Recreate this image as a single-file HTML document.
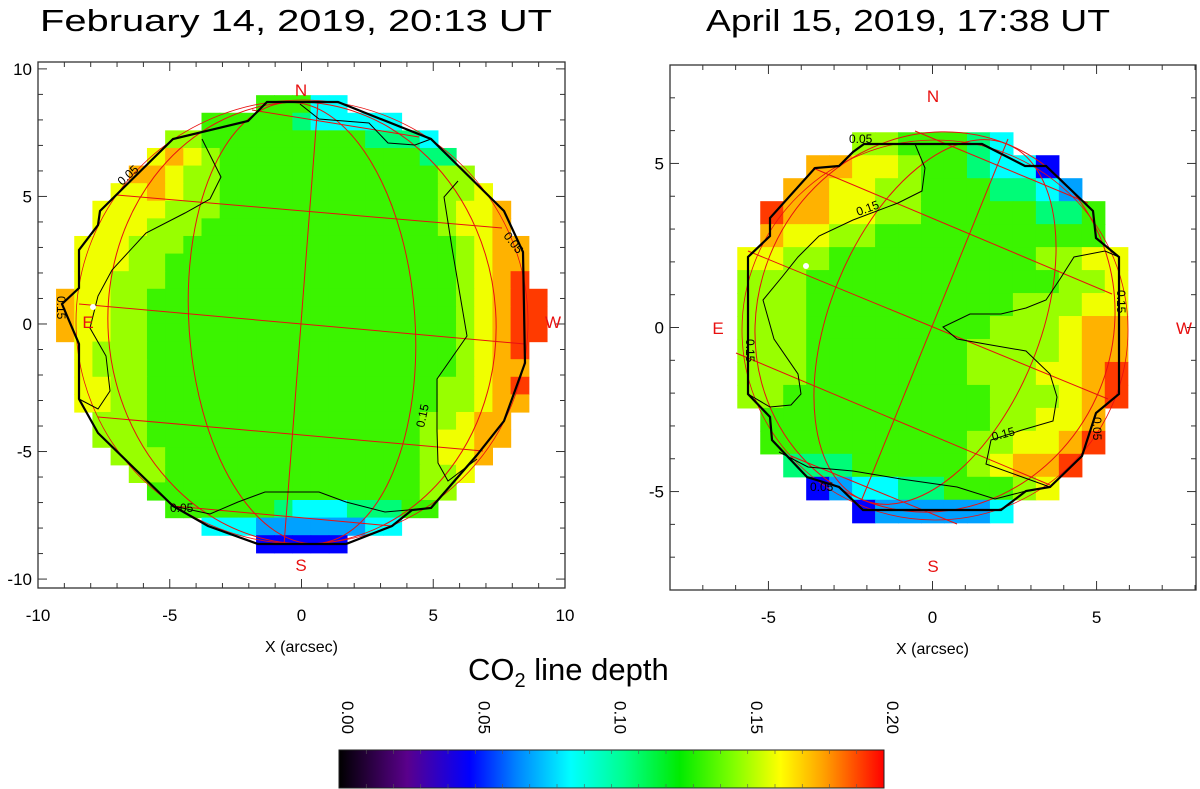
<!DOCTYPE html>
<html><head><meta charset="utf-8"><style>
html,body{margin:0;padding:0;background:#fff;}
svg{display:block;font-family:"Liberation Sans",sans-serif;}
</style></head><body>
<svg id="fig" width="1200" height="789" viewBox="0 0 1200 789" xmlns="http://www.w3.org/2000/svg">
<text x="40" y="31" font-size="31" textLength="512" lengthAdjust="spacingAndGlyphs">February 14, 2019, 20:13 UT</text>
<text x="706" y="31" font-size="31" textLength="404" lengthAdjust="spacingAndGlyphs">April 15, 2019, 17:38 UT</text>
<g id="left"></g>
<g id="right"></g>
<text x="468" y="680" font-size="31">CO<tspan font-size="20" dy="7">2</tspan><tspan dy="-7"> line depth</tspan></text>
<defs><linearGradient id="cbg" x1="0" x2="1" y1="0" y2="0"></linearGradient></defs>
<rect x="339" y="750" width="545" height="38" fill="url(#cbg)" stroke="#222" stroke-width="1"/>
<g id="cbl"></g>
</svg>
<script>
// ---- data ----
const levels = [0.035,0.048,0.07,0.085,0.108,0.134,0.148,0.16,0.175,0.192];
const leftRows = [
"...........55533...........",
"........55555433333........",
"......665555555554443......",
".....78765555555555544.....",
"....8876655555555555566....",
"...778766555555555555667...",
"..77776665555555555556778..",
"..77766655555555555556778..",
".7776665555555555555556788.",
".7776655555555555555556788.",
".7766655555555555555556789.",
"877665555555555555555567899",
"877665555555555555555567899",
"877665555555555555555567899",
".7666555555555555555556789.",
".7666555555555555555556788.",
".7766555555555555555566789.",
".7766555555555555555566788.",
"..66655555555555555566788..",
"..66655555555555555567788..",
"...666555555555555556778...",
"....6655555555555555667....",
".....55555555555555566.....",
"......555555433344455......",
"........33322222233........",
"...........11111..........."
];
const rightRows = [
".....6655543.....",
"...88776554331...",
"..8877665554432..",
".988776655555445.",
".877665555555555.",
"77665555555556677",
"66655555555555667",
"66655555555566677",
"66655555555666788",
"66655555556666788",
"66655555556667789",
"66555555555666789",
".555555555566778.",
".555555555667789.",
"..4445555567889..",
"...12334455567...",
".....1222223....."
];
const cbTicks = [0.00,0.05,0.10,0.15,0.20];
const cbStops = [0,0.025,0.048,0.065,0.085,0.105,0.125,0.145,0.162,0.178,0.2];
const cbColors = [[0,0,0],[90,0,140],[0,0,255],[0,130,255],[0,255,255],[0,255,140],[0,235,0],[130,255,0],[255,255,0],[255,160,0],[255,0,0]];

const NS="http://www.w3.org/2000/svg";
function mk(tag,attrs,parent){const e=document.createElementNS(NS,tag);for(const k in attrs)e.setAttribute(k,attrs[k]);if(parent)parent.appendChild(e);return e;}
function cmap(v){
  if(v<=cbStops[0])return 'rgb(0,0,0)';
  for(let i=1;i<cbStops.length;i++){ if(v<=cbStops[i]){const t=(v-cbStops[i-1])/(cbStops[i]-cbStops[i-1]);const a=cbColors[i-1],b=cbColors[i];return 'rgb('+a.map((c,j)=>Math.round(c+(b[j]-c)*t)).join(',')+')';}}
  return 'rgb(255,0,0)';
}
const grad=document.getElementById('cbg');
cbStops.forEach((s,i)=>{mk('stop',{offset:(s/0.2*100)+'%','stop-color':'rgb('+cbColors[i].join(',')+')'},grad);});
const cbl=document.getElementById('cbl');
function cbx(v){return 339+v/0.2*545;}
cbTicks.forEach(t=>{
  const x=cbx(t);
  const tx=mk('text',{x:0,y:0,'font-size':17,transform:'translate('+(x+3)+',701) rotate(90)'},cbl);
  
  
  tx.textContent=t.toFixed(2);
});
for(let i=1;i<20;i++){const x=cbx(i*0.01);mk('line',{x1:x,x2:x,y1:750,y2:754,stroke:'#555','stroke-width':0.6},cbl);mk('line',{x1:x,x2:x,y1:784,y2:788,stroke:'#555','stroke-width':0.6},cbl);}

function panel(g,cfg){
  const sx=v=>cfg.x0+(v-cfg.xmin)/(cfg.xmax-cfg.xmin)*(cfg.x1-cfg.x0);
  const sy=v=>cfg.y1-(v-cfg.ymin)/(cfg.ymax-cfg.ymin)*(cfg.y1-cfg.y0);
  const cells=mk('g',{},g);
  
  
  cfg.rows.forEach((row,ri)=>{
    const yc=(cfg.rowTop-ri)*cfg.cell;
    const nc=row.length, half=(nc-1)/2;
    for(let ci=0;ci<nc;ci++){
      const ch=row[ci]; if(ch==='.')continue;
      const xc=(ci-half)*cfg.cell;
      const xa=sx(xc-cfg.cell/2), xb=sx(xc+cfg.cell/2), ya=sy(yc+cfg.cell/2), yb=sy(yc-cfg.cell/2);
      const r=mk('rect',{x:xa.toFixed(2),y:ya.toFixed(2),width:(xb-xa+0.6).toFixed(2),height:(yb-ya+0.6).toFixed(2),fill:cmap(levels[+ch])},cells);
      
      
    }
  });
  const fr=mk('rect',{x:cfg.x0,y:cfg.y0,width:cfg.x1-cfg.x0,height:cfg.y1-cfg.y0,fill:'none',stroke:'#333','stroke-width':1.3},g);
  
  
  for(let v=Math.ceil(cfg.xmin);v<=cfg.xmax;v++){
    const x=sx(v), L=(v%5===0)?9:5;
    mk('line',{x1:x,x2:x,y1:cfg.y1,y2:cfg.y1-L,stroke:'#333'},g);
    mk('line',{x1:x,x2:x,y1:cfg.y0,y2:cfg.y0+L,stroke:'#333'},g);
  }
  for(let v=Math.ceil(cfg.ymin);v<=cfg.ymax;v++){
    const y=sy(v), L=(v%5===0)?9:5;
    mk('line',{x1:cfg.x0,x2:cfg.x0+L,y1:y,y2:y,stroke:'#333'},g);
    mk('line',{x1:cfg.x1,x2:cfg.x1-L,y1:y,y2:y,stroke:'#333'},g);
  }
  cfg.xt.forEach(v=>{const t=mk('text',{x:sx(v),y:cfg.y1+33,'font-size':17,'text-anchor':'middle'},g);t.textContent=v;});
  cfg.yt.forEach(v=>{const t=mk('text',{x:cfg.x0-6,y:sy(v)+6,'font-size':17,'text-anchor':'end'},g);t.textContent=v;});
  const xl=mk('text',{x:sx(0),y:cfg.y1+64,'font-size':16,'text-anchor':'middle'},g);
  
  
  xl.textContent='X (arcsec)';
  g.insertAdjacentHTML('beforeend',cfg.overlay);
}

panel(document.getElementById('left'),{
  x0:38,x1:565,y0:62,y1:588,xmin:-10,xmax:10,ymin:-10.35,ymax:10.27,
  cell:0.69,rows:leftRows,rowTop:12.5,xt:[-10,-5,0,5,10],yt:[10,5,0,-5,-10],
  overlay:`
<g fill="none" stroke="#e81010" stroke-width="1">
<ellipse cx="302" cy="322" rx="226" ry="222" stroke-width="0.8"/>
<ellipse cx="302" cy="323" rx="113" ry="221" transform="rotate(-4 302 323)"/>
<ellipse cx="302" cy="323" rx="194" ry="221" transform="rotate(-4 302 323)"/>
<line x1="318" y1="102" x2="284" y2="545"/>
<line x1="252" y1="110" x2="419" y2="137"/>
<line x1="117" y1="195" x2="502" y2="228"/>
<line x1="79" y1="304" x2="525" y2="344"/>
<line x1="98" y1="417" x2="483" y2="451"/>
<line x1="173" y1="506" x2="392" y2="526"/>
</g>
<g fill="none" stroke="#000">
<polygon stroke-width="2.2" points="267,102 338,102 431,139 504,211 523,252 525,363 504,421 477,455 431,508 412,510 392,526 346,544 258,544 208,526 173,506 98,433 79,399 79,344 62,304 79,288 79,250 98,225 100,211 173,139 248,121"/>
<polyline stroke-width="1" points="202,139 221,177 210,199 185,213 146,233 112,270 98,296 90,328 106,356 110,391 98,409 79,399"/>
<polyline stroke-width="1" points="458,181 444,197 452,248 467,336 437,379 437,431 438,463 448,481 477,459"/>
<polyline stroke-width="1" points="173,506 210,514 238,502 265,492 319,492 346,502 385,512 431,508"/>
<polyline stroke-width="1" points="300,104 319,119 369,123 388,143 415,145 431,139"/>
</g>
<g font-size="12" fill="#000">
<text transform="translate(122,186) rotate(-42)">0.05</text>
<text transform="translate(503,236) rotate(52)">0.05</text>
<text transform="translate(424,428) rotate(-78)">0.15</text>
<text x="170" y="512">0.05</text>
<text transform="translate(57,296) rotate(90)">0.15</text>
</g>
<g fill="#e81010" font-size="17">
<text x="301" y="96" text-anchor="middle">N</text>
<text x="301" y="571" text-anchor="middle">S</text>
<text x="88" y="328" text-anchor="middle">E</text>
<text x="553" y="328" text-anchor="middle">W</text>
</g>
<circle cx="93" cy="307" r="3" fill="#fff"/>`
});

panel(document.getElementById('right'),{
  x0:670,x1:1196,y0:65,y1:590,xmin:-8,xmax:8.03,ymin:-8,ymax:8,
  cell:0.7,rows:rightRows,rowTop:8,xt:[-5,0,5],yt:[5,0,-5],
  overlay:`
<g fill="none" stroke="#e81010" stroke-width="1">
<ellipse cx="935" cy="330" rx="193" ry="190" stroke-width="0.8"/>
<ellipse cx="935" cy="322" rx="105" ry="192" transform="rotate(22 935 322)"/>
<ellipse cx="935" cy="322" rx="178" ry="192" transform="rotate(22 935 322)"/>
<line x1="1008" y1="139" x2="862" y2="499"/>
<line x1="915" y1="131" x2="1088" y2="203"/>
<line x1="813" y1="168" x2="1112" y2="294"/>
<line x1="748" y1="251" x2="1108" y2="399"/>
<line x1="736" y1="353" x2="1050" y2="485"/>
<line x1="791" y1="456" x2="957" y2="524"/>
</g>
<g fill="none" stroke="#000">
<polygon stroke-width="2.2" points="864,144 982,144 1025,166 1046,166 1093,211 1096,238 1119,257 1119,394 1096,413 1082,456 1050,487 1026,491 1001,510 863,510 839,487 807,477 772,440 770,417 748,394 748,257 770,236 770,218 815,168 839,166 853,152"/>
<polyline stroke-width="1" points="915,144 925,168 922,191 898,203 853,220 819,236 798,257 782,277 763,300 774,339 798,374 801,394 791,405 770,407 748,394"/>
<polyline stroke-width="1" points="1119,257 1105,251 1074,257 1060,279 1046,300 1026,308 1001,314 970,314 943,327 957,339 991,345 1026,351 1050,374 1057,397 1053,421 1022,430 991,440 986,464 1050,487"/>
<polyline stroke-width="1" points="779,452 808,467 853,471 901,479 957,487 995,499 1026,491"/>
</g>
<g font-size="12" fill="#000">
<text x="849" y="143">0.05</text>
<text transform="translate(858,216) rotate(-20)">0.15</text>
<text transform="translate(1117,290) rotate(90)">0.15</text>
<text transform="translate(993,441) rotate(-15)">0.15</text>
<text transform="translate(1093,417) rotate(90)">0.05</text>
<text x="810" y="491">0.05</text>
<text transform="translate(746,339) rotate(90)">0.15</text>
</g>
<g fill="#e81010" font-size="17">
<text x="933" y="102" text-anchor="middle">N</text>
<text x="933" y="572" text-anchor="middle">S</text>
<text x="718" y="334" text-anchor="middle">E</text>
<text x="1184" y="334" text-anchor="middle">W</text>
</g>
<circle cx="806" cy="266" r="3" fill="#fff"/>`
});
</script>
</body></html>
